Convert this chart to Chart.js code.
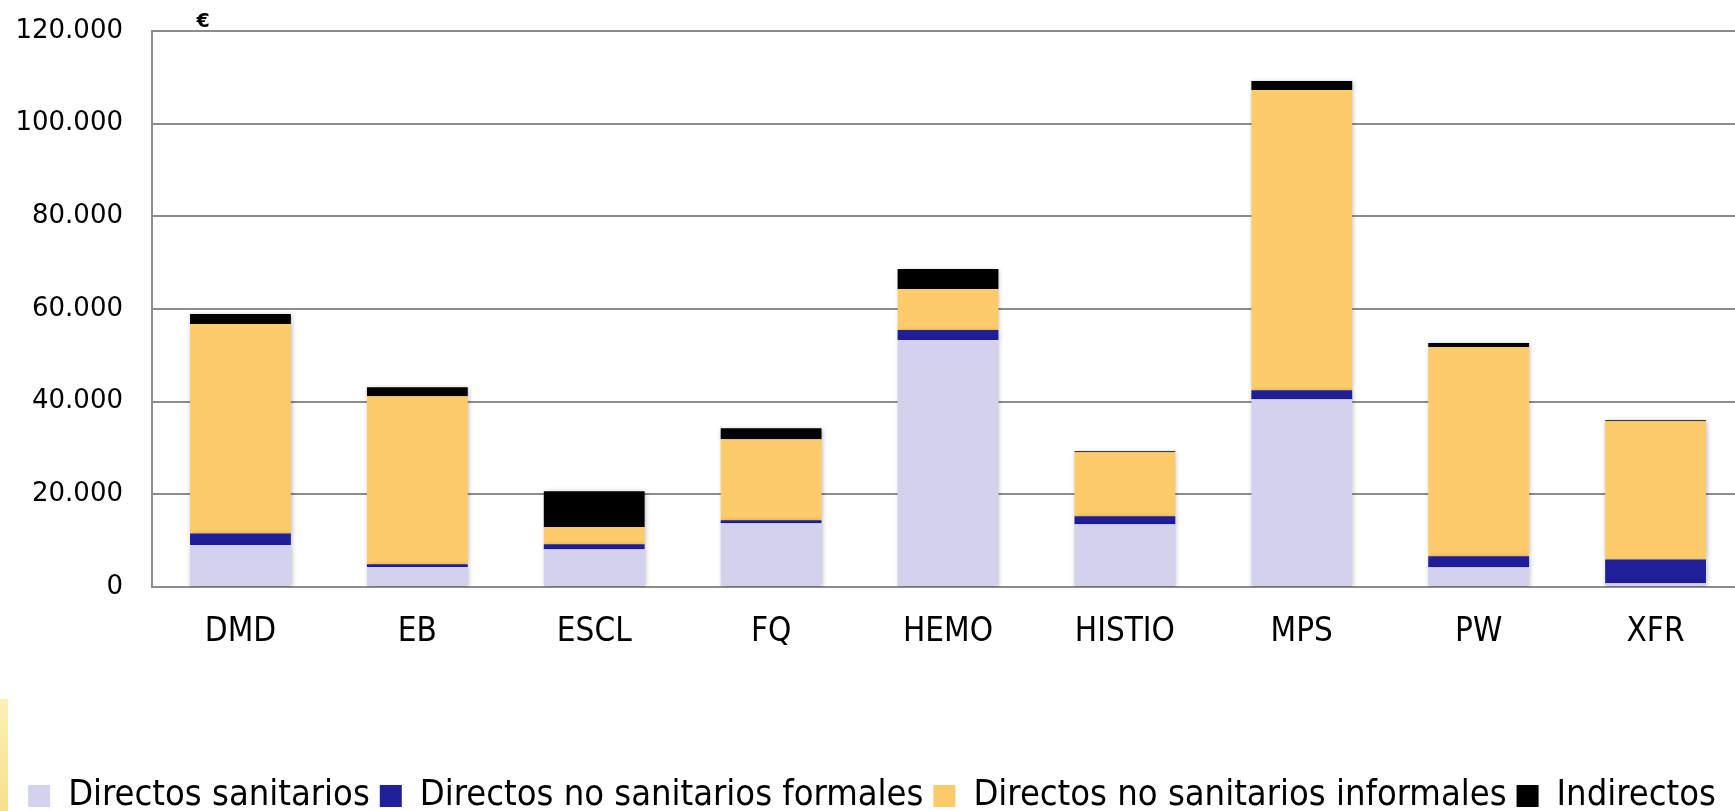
<!DOCTYPE html>
<html>
<head>
<meta charset="utf-8">
<script src="https://cdn.jsdelivr.net/npm/chart.js@4/dist/chart.umd.min.js"></script>
<style>
  html, body { margin: 0; padding: 0; background: #ffffff; overflow: hidden; width: 1735px; height: 811px; }
  #wrap { position: relative; width: 1735px; height: 811px; overflow: hidden; }
  #c { position: absolute; left: 0; top: 0; }
  #strip { position: absolute; left: 0; top: 699px; width: 8px; height: 112px;
           background: linear-gradient(#fdf0b6, #f6e08e); }
</style>
</head>
<body>
<div id="wrap">
  <canvas id="c" width="1744" height="824"></canvas>
  <div id="strip"></div>
</div>
<script>
const categories = ['DMD', 'EB', 'ESCL', 'FQ', 'HEMO', 'HISTIO', 'MPS', 'PW', 'XFR'];
const seriesNames = ['Directos sanitarios', 'Directos no sanitarios formales', 'Directos no sanitarios informales', 'Indirectos'];
const directosSanitarios   = [9070, 4320, 8140, 13760, 53290, 13540, 40540, 4260, 800];
const directosNoSanFormales = [2460, 580, 1080, 650, 2160, 1730, 1950, 2370, 5120];
const directosNoSanInformales = [45210, 36290, 3740, 17490, 8850, 13820, 64800, 45150, 29870];
const indirectos           = [2160, 1940, 7710, 2380, 4320, 220, 1940, 860, 220];
const yTickValues = [0, 20000, 40000, 60000, 80000, 100000, 120000];
const yTickLabels = ['0', '20.000', '40.000', '60.000', '80.000', '100.000', '120.000'];
const unitLabel = '€';

const colors = ['#d2d2ee', '#1f1f99', '#fdcb69', '#000000'];
const seriesValues = [directosSanitarios, directosNoSanFormales, directosNoSanInformales, indirectos];

const shadowPlugin = {
  id: 'barShadow',
  beforeDatasetsDraw(chart) {
    const ctx = chart.ctx;
    ctx.save();
    ctx.shadowColor = 'rgba(0,0,0,0.28)';
    ctx.shadowBlur = 5;
    ctx.shadowOffsetX = 1;
    ctx.shadowOffsetY = 1;
  },
  afterDatasetsDraw(chart) {
    chart.ctx.restore();
  }
};

const unitPlugin = {
  id: 'unitLabel',
  afterDraw(chart) {
    const ctx = chart.ctx;
    ctx.save();
    ctx.fillStyle = '#000';
    ctx.font = 'bold 19px "DejaVu Sans"';
    ctx.textAlign = 'center';
    ctx.textBaseline = 'middle';
    ctx.fillText(unitLabel, 203, 22);
    ctx.restore();
  }
};

new Chart(document.getElementById('c'), {
  type: 'bar',
  data: {
    labels: categories,
    datasets: seriesValues.map((vals, i) => ({
      label: seriesNames[i],
      data: vals,
      backgroundColor: colors[i],
      borderWidth: 0,
      categoryPercentage: 1.0,
      barPercentage: 0.57
    }))
  },
  options: {
    responsive: false,
    animation: false,
    devicePixelRatio: 1,
    layout: { padding: { top: 31, left: 0, right: 0, bottom: 0 } },
    plugins: {
      legend: {
        position: 'bottom',
        labels: {
          boxWidth: 22,
          boxHeight: 22,
          padding: 10,
          color: '#000',
          font: { family: '"DejaVu Sans Condensed", "DejaVu Sans"', size: 36 }
        }
      },
      tooltip: { enabled: false }
    },
    scales: {
      x: {
        stacked: true,
        grid: { display: false, drawTicks: false },
        border: { display: true, color: '#8c8c8c', width: 2 },
        ticks: {
          color: '#000',
          padding: 26,
          maxRotation: 0,
          autoSkip: false,
          font: { family: '"DejaVu Sans Condensed", "DejaVu Sans"', size: 33 }
        },
        afterFit(scale) { scale.height = 181; }
      },
      y: {
        stacked: true,
        min: 0,
        max: 120000,
        grid: { color: '#8c8c8c', lineWidth: 2, drawTicks: false },
        border: { display: true, color: '#8c8c8c', width: 2 },
        afterBuildTicks(scale) { scale.ticks = yTickValues.map(v => ({ value: v })); },
        ticks: {
          color: '#000',
          padding: 29,
          font: { family: '"DejaVu Sans"', size: 26 },
          callback(value) {
            const idx = yTickValues.indexOf(value);
            return idx >= 0 ? yTickLabels[idx] : '';
          }
        },
        afterFit(scale) {
          scale.width = 152;
          scale.paddingTop = 0;
          scale.paddingBottom = 0;
        }
      }
    }
  },
  plugins: [shadowPlugin, unitPlugin]
});
</script>
</body>
</html>
